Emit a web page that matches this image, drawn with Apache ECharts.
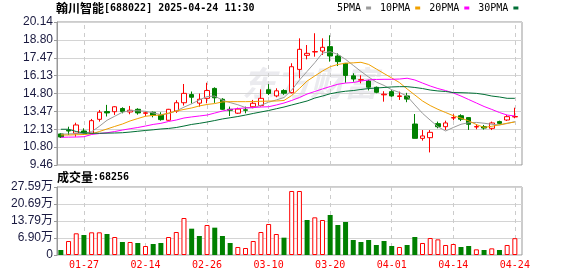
<!DOCTYPE html>
<html><head><meta charset="utf-8">
<script src="https://cdn.jsdelivr.net/npm/echarts@6/dist/echarts.min.js"></script>
<style>html,body{margin:0;padding:0;background:#fff}#c{width:578px;height:276px}</style>
</head><body><div id="c"></div>
<script>
const dates = ['01-22','01-23','01-24','01-27','02-05','02-06','02-07','02-10','02-11','02-12',
'02-13','02-14','02-17','02-18','02-19','02-20','02-21','02-24','02-25','02-26',
'02-27','02-28','03-03','03-04','03-05','03-06','03-07','03-10','03-11','03-12',
'03-13','03-14','03-17','03-18','03-19','03-20','03-21','03-24','03-25','03-26',
'03-27','03-28','03-31','04-01','04-02','04-03','04-07','04-08','04-09','04-10',
'04-11','04-14','04-15','04-16','04-17','04-18','04-21','04-22','04-23','04-24'];
const opens = [11.78,12.05,11.83,12.00,11.83,12.87,13.45,13.44,13.68,13.42,
13.62,13.32,13.40,13.18,12.80,13.49,14.11,14.72,14.08,14.44,
15.18,14.37,13.62,13.33,13.58,13.81,13.90,15.08,14.62,15.02,
14.86,16.60,17.65,17.90,17.97,18.30,17.60,17.05,16.12,15.80,
15.73,15.26,14.70,14.94,14.58,14.62,12.52,11.45,11.50,12.55,
12.32,12.97,13.14,13.00,12.30,12.32,12.20,12.70,12.82,13.05];
const closes = [11.55,12.00,12.45,11.80,12.77,13.40,13.35,13.81,13.46,13.55,
13.35,13.36,13.18,12.85,13.62,14.11,14.81,14.52,14.37,15.02,
14.48,13.62,13.55,13.64,13.55,14.07,14.44,14.80,15.00,14.82,
16.80,18.10,17.80,17.93,18.25,17.60,17.18,16.15,15.88,15.83,
15.27,14.89,14.75,14.62,14.62,14.38,11.45,11.63,11.90,12.32,
12.60,13.00,12.88,12.50,12.33,12.22,12.60,12.57,13.07,13.08];
const lows = [11.48,11.70,11.57,11.70,11.80,12.70,13.08,13.20,13.32,13.25,
13.22,13.12,13.02,12.77,12.77,13.35,13.90,14.05,13.82,14.07,
14.10,13.57,13.12,13.27,13.32,13.70,13.82,14.68,14.52,14.70,
14.81,15.93,17.35,17.55,17.68,17.18,16.85,15.60,15.68,15.56,
15.03,14.82,14.19,14.55,14.32,14.15,11.45,11.28,10.40,12.20,
12.07,12.80,12.74,12.08,12.13,12.10,12.07,12.50,12.75,12.95];
const highs = [11.83,12.32,12.62,12.20,12.90,13.57,13.95,13.85,13.77,13.87,
13.70,13.45,13.45,13.40,13.65,14.30,15.51,14.95,14.80,15.60,
15.26,14.45,13.82,13.74,13.82,14.32,15.11,15.50,15.19,15.12,
17.06,18.92,18.42,19.30,18.92,19.15,17.80,17.08,16.31,16.16,
15.82,15.32,14.97,15.05,14.94,14.85,13.27,12.07,12.07,12.70,
12.77,13.25,13.25,13.02,12.50,12.45,12.70,12.77,13.20,13.74];
const volumes = [20300,56800,88000,81100,92000,92000,85200,73000,52700,52700,
48700,36500,44600,48700,73000,93300,150100,106800,77100,121700,
110900,77100,48700,32500,28400,56800,93300,125800,85200,70300,
259700,259700,142000,152800,142000,162300,121700,133900,60900,52700,
60900,40600,56800,36500,32500,40600,73000,48700,69000,63500,
40600,44600,32500,36500,23000,20300,27000,20300,40600,68256];
const volUp = [0,1,1,0,1,1,0,1,0,1, 0,1,0,0,1,1,1,0,0,1, 0,0,0,1,1,1,1,1,1,0,
1,1,0,1,1,0,0,0,0,0, 0,0,0,0,1,0,0,1,1,1, 1,1,0,0,1,0,1,0,1,1];
const ma5 = [11.76,11.78,11.80,11.82,11.95,12.35,12.80,13.10,13.40,13.52,
13.51,13.47,13.35,13.22,13.30,13.50,13.78,14.03,14.32,14.57,
14.61,14.30,14.12,13.96,13.75,13.73,13.92,14.15,14.32,14.50,
15.05,15.80,16.45,17.10,17.82,17.92,17.72,17.35,16.90,16.45,
16.03,15.65,15.40,15.08,14.88,14.60,13.95,13.32,12.81,12.32,
12.00,12.26,12.50,12.62,12.64,12.58,12.50,12.45,12.56,12.70];
const ma10 = [11.70,11.70,11.72,11.74,11.78,11.96,12.15,12.34,12.52,12.75,
12.93,13.10,13.16,13.19,13.34,13.49,13.61,13.72,13.87,13.98,
14.05,14.17,14.19,14.19,14.19,14.20,14.22,14.23,14.24,14.28,
14.65,15.17,15.73,16.11,16.48,16.80,16.97,17.06,17.09,17.13,
16.97,16.63,16.29,15.96,15.62,15.14,14.69,14.24,13.90,13.62,
13.38,13.14,12.96,12.76,12.48,12.27,12.35,12.46,12.58,12.67];
const ma20 = [11.53,11.54,11.55,11.57,11.74,11.81,11.87,11.96,12.07,12.17,
12.26,12.37,12.49,12.57,12.71,12.82,12.97,13.05,13.12,13.19,
13.34,13.49,13.61,13.68,13.72,13.75,13.79,13.81,13.94,14.09,
14.28,14.50,14.76,14.95,15.14,15.32,15.49,15.58,15.62,15.73,
15.81,15.85,15.86,15.86,15.88,15.94,15.81,15.58,15.36,15.17,
15.02,14.84,14.61,14.35,14.09,13.83,13.61,13.38,13.19,13.12];
const ma30 = [12.13,12.13,11.96,11.85,11.83,11.83,11.84,11.85,11.87,11.92,
11.98,12.04,12.09,12.15,12.19,12.26,12.37,12.49,12.57,12.67,
12.78,12.90,12.99,13.08,13.19,13.31,13.42,13.53,13.66,13.79,
13.94,14.09,14.24,14.46,14.61,14.78,14.89,14.97,15.02,15.10,
15.17,15.21,15.25,15.29,15.31,15.31,15.25,15.17,15.06,14.99,
14.95,14.87,14.86,14.84,14.81,14.73,14.61,14.54,14.44,14.44];
const priceTickLabels = ['9.46','10.80','12.13','13.47','14.80','16.13','17.47','18.80','20.14'];
const volTickLabels = ['0','6.90万','13.79万','20.69万','27.59万'];
const labelDates = ['01-27','02-14','02-26','03-10','03-20','04-01','04-14','04-24'];
const maNames = ['5PMA','10PMA','20PMA','30PMA'];
const maColors = ['#9a9a9a','#f0a000','#ff00ff','#006f35'];

const MONO = "'DejaVu Sans Mono', monospace";
const CJK = "'Noto Sans CJK SC', sans-serif";
const NUM = "'Liberation Sans', 'Noto Sans CJK SC', sans-serif";
const RED = '#ff0000', GREEN = '#008000';
const LEFT = 57, FRAME_W = 465, DATA_W = 461.7;

const vline = {
  silent: true, symbol: ['none','none'], label: {show: false}, z: 0,
  lineStyle: {type: [4,4], color: '#cccccc', width: 1},
  emphasis: {disabled: true},
  data: labelDates.map(d => ({xAxis: d}))
};

const chart = echarts.init(document.getElementById('c'));
chart.setOption({
  animation: false,
  backgroundColor: '#ffffff',
  title: [
    {text: '{c|翰川智能}{m|[688022] 2025-04-24 11:30}', left: 56, top: 2, padding: 0,
     textStyle: {rich: {c: {fontFamily: CJK, fontSize: 12, color: '#000'}, m: {fontFamily: MONO, fontSize: 10, color: '#000'}}}},
    {text: '{c|成交量}{m|:' + volumes[volumes.length-1] + '}', left: 57, top: 171, padding: 0,
     textStyle: {rich: {c: {fontFamily: CJK, fontSize: 12, color: '#000'}, m: {fontFamily: MONO, fontSize: 10, color: '#000'}}}}
  ],
  legend: {
    left: 337, top: 3, padding: 0, align: 'right', icon: 'rect', itemWidth: 5, itemHeight: 3, itemGap: 9,
    selectedMode: false, data: maNames,
    textStyle: {fontFamily: MONO, fontSize: 10, color: '#000', padding: [0,0,0,0]}
  },
  graphic: [{type: 'text', left: 242, top: 66, z: 0, silent: true,
    style: {text: '东方财富', fill: '#ebebef', font: 'bold italic 34px "Noto Sans CJK SC"'}}],
  grid: [
    {left: LEFT, top: 22, width: FRAME_W, height: 143, show: true, borderColor: '#999', borderWidth: 1, backgroundColor: 'transparent'},
    {left: LEFT, top: 22, width: DATA_W, height: 143},
    {left: LEFT, top: 187, width: FRAME_W, height: 68, show: true, borderColor: '#999', borderWidth: 1, backgroundColor: 'transparent'},
    {left: LEFT, top: 187, width: DATA_W, height: 68}
  ],
  xAxis: [
    {gridIndex: 0, type: 'value', min: 0, max: 1, show: false},
    {gridIndex: 1, type: 'category', data: dates, show: false},
    {gridIndex: 2, type: 'value', min: 0, max: 1, show: false},
    {gridIndex: 3, type: 'category', data: dates,
     axisLine: {show: false}, axisTick: {show: false}, splitLine: {show: false},
     axisLabel: {interval: (i, v) => labelDates.indexOf(v) >= 0, color: RED, fontFamily: MONO, fontSize: 10, margin: 5, hideOverlap: false}}
  ],
  yAxis: [
    {gridIndex: 0, type: 'value', min: 0, max: 8, interval: 1,
     axisLine: {show: true, lineStyle: {color: '#999'}},
     axisTick: {show: true, length: 3, lineStyle: {color: '#999'}},
     axisLabel: {formatter: v => priceTickLabels[Math.round(v)], color: '#1a1a40', fontFamily: NUM, fontSize: 12, margin: 4},
     splitLine: {show: true, lineStyle: {color: '#d4d4d4', width: 1}}},
    {gridIndex: 1, type: 'value', min: 9.46, max: 20.14, show: false, splitLine: {show: false}},
    {gridIndex: 2, type: 'value', min: 0, max: 4, interval: 1,
     axisLine: {show: true, lineStyle: {color: '#999'}},
     axisTick: {show: true, length: 3, lineStyle: {color: '#999'}},
     axisLabel: {formatter: v => volTickLabels[Math.round(v)], color: '#1a1a40', fontFamily: NUM, fontSize: 12, margin: 4},
     splitLine: {show: true, lineStyle: {color: '#d4d4d4', width: 1}}},
    {gridIndex: 3, type: 'value', min: 0, max: 275900, show: false, splitLine: {show: false}}
  ],
  series: [
    {type: 'candlestick', name: 'K', xAxisIndex: 1, yAxisIndex: 1, barWidth: 5, silent: true, z: 3,
     data: dates.map((d, i) => [opens[i], closes[i], lows[i], highs[i]]),
     itemStyle: {color: '#ffffff', color0: GREEN, borderColor: RED, borderColor0: GREEN, borderWidth: 1},
     markLine: vline},
    ...[ma5, ma10, ma20, ma30].map((arr, k) => ({
      type: 'line', name: maNames[k], xAxisIndex: 1, yAxisIndex: 1, data: arr, z: 4,
      symbol: 'none', showSymbol: false, silent: true,
      lineStyle: {width: 1, color: maColors[k]}, itemStyle: {color: maColors[k]}
    })),
    {type: 'bar', name: 'VOL', xAxisIndex: 3, yAxisIndex: 3, barWidth: 5, silent: true, z: 3,
     data: volumes.map((v, i) => ({value: v, itemStyle: volUp[i] ? {color: '#ffffff', borderColor: RED, borderWidth: 1} : {color: GREEN, borderWidth: 0}})),
     markLine: vline}
  ]
});
</script></body></html>
